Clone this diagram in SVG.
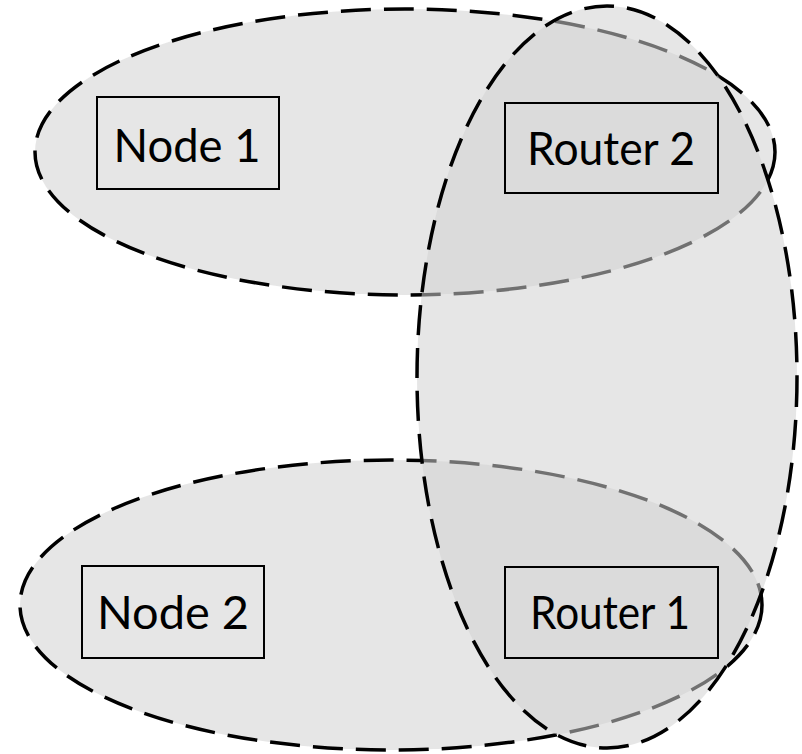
<svg xmlns="http://www.w3.org/2000/svg" width="802" height="754" viewBox="0 0 802 754">
  <style>
    .area { fill: #d0d0d0; fill-opacity: 0.54; stroke: #000; stroke-width: 3.5; stroke-dasharray: 30 13; }
    .box { fill: none; stroke: #000; stroke-width: 2; }
    .label { font-family: Lato, "Noto Sans", "Liberation Sans", sans-serif; font-size: 46px; fill: #000; text-anchor: middle; }
  </style>
  <rect width="802" height="754" fill="#fff"/>
  <!-- overlapping groupings -->
  <g id="areas">
    <ellipse id="area-top" class="area" cx="405" cy="152" rx="370" ry="143"/>
    <ellipse id="area-bottom" class="area" cx="391" cy="605" rx="371" ry="145"/>
    <ellipse id="area-vertical" class="area" cx="607" cy="377" rx="190" ry="371"/>
  </g>
  <g id="connectors"></g>
  <g id="node1">
    <rect class="box" x="97" y="97" width="182" height="92"/>
    <text class="label" x="187" y="162" textLength="147" lengthAdjust="spacingAndGlyphs">Node 1</text>
  </g>
  <g id="router2">
    <rect class="box" x="505" y="103" width="213" height="90"/>
    <text class="label" x="611" y="165" textLength="168" lengthAdjust="spacingAndGlyphs">Router 2</text>
  </g>
  <g id="node2">
    <rect class="box" x="82" y="566" width="182" height="92"/>
    <text class="label" x="173" y="629" textLength="152" lengthAdjust="spacingAndGlyphs">Node 2</text>
  </g>
  <g id="router1">
    <rect class="box" x="505" y="567" width="213" height="91"/>
    <text class="label" x="610" y="629" textLength="160" lengthAdjust="spacingAndGlyphs">Router 1</text>
  </g>
</svg>
